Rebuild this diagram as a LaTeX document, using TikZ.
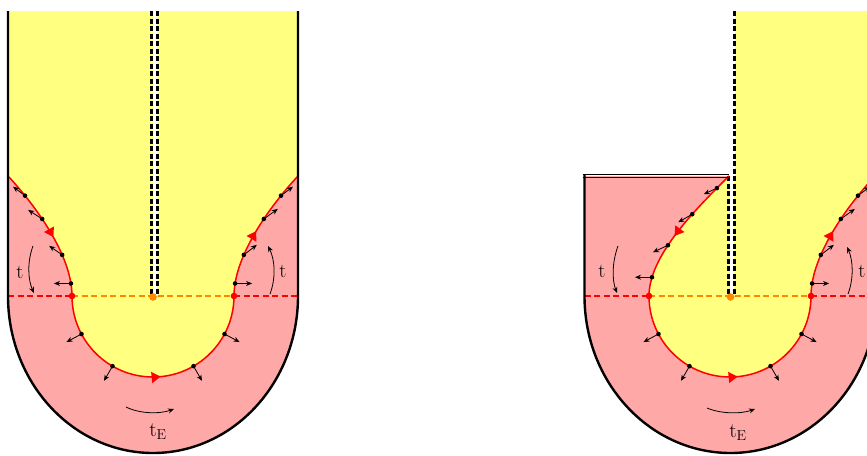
\documentclass[tikz,border=0pt]{standalone}
\usetikzlibrary{arrows.meta,decorations.markings}
\definecolor{ylw}{RGB}{255,255,128}
\definecolor{pnk}{RGB}{255,168,168}
\definecolor{org}{RGB}{255,136,0}
\tikzset{
  redcurve/.style={red, line width=1.5pt},
  midarrow/.style={postaction={decorate}, decoration={markings, mark=at position #1 with {\arrow{Triangle[length=9pt,width=11pt]}}}},
  vec/.style={-{Stealth[length=6pt,width=5pt]}, line width=0.8pt},
  wall/.style={line width=2.4pt},
  hdash/.style={line width=1.7pt, dash pattern=on 6pt off 3.5pt},
  vdash/.style={line width=2.3pt, dash pattern=on 5pt off 2.5pt},
  lbl/.style={font=\fontsize{20}{22}\selectfont, inner sep=0pt},
  dotb/.style={fill=black},
}
\begin{document}
\begin{tikzpicture}[x=1pt,y=-1pt]
\clip (0,0) rectangle (867,455);
\fill[white] (0,0) rectangle (867,455);

% ================= left figure =================
\fill[pnk] (8,176) -- (8,296) arc[start angle=180,end angle=0,x radius=145,y radius=157] -- (298,176) -- cycle;
\fill[ylw] (8,11) rectangle (298,176.5);
\fill[ylw] (8,176) .. controls (35,205) and (72,255) .. (72,296) arc[start angle=180,end angle=0,radius=81] .. controls (234,255) and (271,205) .. (298,176) -- cycle;

\draw[red, hdash] (8,296) -- (72,296);
\draw[red, hdash] (234,296) -- (298,296);
\draw[org, hdash] (72,296) -- (234,296);

\fill[white] (152.5,11) rectangle (156.5,296);
\draw[vdash] (151.5,11) -- (151.5,296);
\draw[vdash] (157.5,11) -- (157.5,296);

\draw[redcurve, midarrow=0.55] (8,176) .. controls (35,205) and (72,255) .. (72,296)
  coordinate[pos=0.2] (a4) coordinate[pos=0.4] (a3) coordinate[pos=0.68] (a2) coordinate[pos=0.9] (a1);
\draw[redcurve, midarrow=0.53] (72,296) arc[start angle=180,end angle=0,radius=81];
\draw[redcurve, midarrow=0.5] (234,296) .. controls (234,255) and (271,205) .. (298,176)
  coordinate[pos=0.1] (b1) coordinate[pos=0.32] (b2) coordinate[pos=0.6] (b3) coordinate[pos=0.8] (b4);

\draw[wall] (8,11) -- (8,296) arc[start angle=180,end angle=0,x radius=145,y radius=157] -- (298,11);

\draw[vec] (a1) -- ++(-17,0);
\draw[vec] (a2) -- ++(-13,-9);
\draw[vec] (a3) -- ++(-14,-9);
\draw[vec] (a4) -- ++(-12,-9);
\draw[vec] (b1) -- ++(17,0);
\draw[vec] (b2) -- ++(13,-10);
\draw[vec] (b3) -- ++(14,-10);
\draw[vec] (b4) -- ++(12,-9);
\foreach \p in {a1,a2,a3,a4,b1,b2,b3,b4} \fill[dotb] (\p) circle[radius=2.3];
\foreach \a in {152,120,60,28} {
  \draw[vec] ([shift={(153,296)}]\a:81) -- ([shift={(153,296)}]\a:98);
  \fill[dotb] ([shift={(153,296)}]\a:81) circle[radius=2.3];
}
\fill[red] (72,296) circle[radius=3.3];
\fill[red] (234,296) circle[radius=3.3];
\fill[org] (153,297) circle[radius=3.8];

\draw[vec] (33,246) .. controls (27,262) and (28,280) .. (34,293);
\draw[vec] (270,294) .. controls (276,278) and (275,260) .. (268,246);
\draw[vec] (126,407) .. controls (140,414) and (160,414) .. (174,409);
\node[lbl] (tl1) at (20,272) {t};
\node[lbl] (tr1) at (283,271) {t};
\node[lbl] (te1) at (158,432) {$\mathrm{t}_{\mathrm{E}}$};

% ================= right figure =================
\fill[pnk] (584.5,176) -- (584.5,296) arc[start angle=180,end angle=0,x radius=146,y radius=157] -- (876.5,176) -- cycle;
\fill[ylw] (734.5,11) rectangle (877,176.5);
\fill[ylw] (729,176) .. controls (697,208) and (649,255) .. (649,296) arc[start angle=180,end angle=0,radius=81] .. controls (811,255) and (848,205) .. (875,176) -- cycle;

\draw[red, hdash] (584.5,296) -- (649,296);
\draw[org, hdash] (649,296) -- (811,296);
\draw[red, hdash] (811,296) -- (877,296);

\fill[white] (729.5,176) rectangle (733.5,296);
\draw[vdash] (728.5,176) -- (728.5,296);
\draw[vdash] (734.5,11) -- (734.5,296);

\draw[redcurve, midarrow=0.55] (729,176) .. controls (697,208) and (649,255) .. (649,296)
  coordinate[pos=0.12] (c4) coordinate[pos=0.35] (c3) coordinate[pos=0.6] (c2) coordinate[pos=0.85] (c1);
\draw[redcurve, midarrow=0.53] (649,296) arc[start angle=180,end angle=0,radius=81];
\draw[redcurve, midarrow=0.5] (811,296) .. controls (811,255) and (848,205) .. (875,176)
  coordinate[pos=0.1] (d1) coordinate[pos=0.32] (d2) coordinate[pos=0.6] (d3) coordinate[pos=0.8] (d4);

\draw[wall] (584.5,174.5) -- (584.5,296) arc[start angle=180,end angle=0,x radius=146,y radius=157] -- (876.5,11);
\draw[line width=1.1pt] (583.3,174.8) -- (729,174.8);
\draw[line width=1.1pt] (583.3,177.6) -- (729,177.6);

\draw[vec] (c1) -- ++(-17,0);
\draw[vec] (c2) -- ++(-15,7);
\draw[vec] (c3) -- ++(-14,8);
\draw[vec] (c4) -- ++(-13,6);
\draw[vec] (d1) -- ++(17,0);
\draw[vec] (d2) -- ++(13,-10);
\draw[vec] (d3) -- ++(14,-10);
\draw[vec] (d4) -- ++(12,-9);
\foreach \p in {c1,c2,c3,c4,d1,d2,d3,d4} \fill[dotb] (\p) circle[radius=2.3];
\foreach \a in {152,120,60,28} {
  \draw[vec] ([shift={(730,296)}]\a:81) -- ([shift={(730,296)}]\a:98);
  \fill[dotb] ([shift={(730,296)}]\a:81) circle[radius=2.3];
}
\fill[red] (649,296) circle[radius=3.3];
\fill[red] (811,296) circle[radius=3.3];
\fill[org] (730.5,297) circle[radius=3.8];

\draw[vec] (618,246) .. controls (612,262) and (612,280) .. (617,293);
\draw[vec] (848,294) .. controls (854,278) and (853,260) .. (847,247);
\draw[vec] (707,408) .. controls (721,414) and (741,414) .. (755,409);
\node[lbl] (tl2) at (602,271) {t};
\node[lbl] (tr2) at (862,271) {t};
\node[lbl] (te2) at (738,433) {$\mathrm{t}_{\mathrm{E}}$};
\end{tikzpicture}
\end{document}
